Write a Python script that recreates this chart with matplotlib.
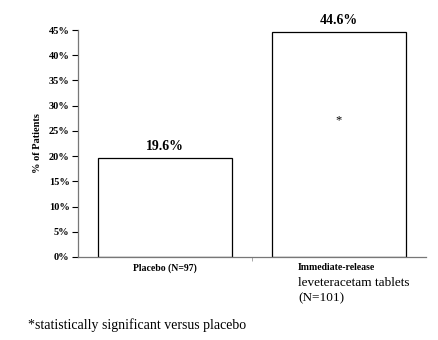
import matplotlib
matplotlib.use("Agg")
import matplotlib.pyplot as plt
from matplotlib.ticker import FuncFormatter

groups = ["Placebo (N=97)", "Immediate-release levetiracetam tablets (N=101)"]
responders = [19.6, 44.6]
yticks = [0, 5, 10, 15, 20, 25, 30, 35, 40, 45]

serif = ["Liberation Serif", "DejaVu Serif"]
plt.rcParams["font.family"] = serif

fig = plt.figure(figsize=(4.39, 3.40), dpi=100)
ax = fig.add_axes([78 / 439, 1 - 257 / 340, (426 - 78) / 439, (257 - 30) / 340])

x = list(range(len(groups)))
ax.bar(x, responders, width=0.77, color="white", edgecolor="black", linewidth=0.9)

ax.set_xlim(-0.5, 1.5)
ax.set_ylim(0, 45)
ax.set_yticks(yticks)
ax.yaxis.set_major_formatter(FuncFormatter(lambda v, p: f"{v:.0f}%"))
ax.tick_params(axis="y", labelsize=7.5, length=4, width=0.8, direction="out", pad=2, colors="black")
for lab in ax.get_yticklabels():
    lab.set_fontweight("bold")
ax.set_xticks([0.5])
ax.set_xticklabels([])
ax.tick_params(axis="x", length=3, width=0.6, color="#999999")

for side in ("top", "right"):
    ax.spines[side].set_visible(False)
ax.spines["left"].set_color("#777777")
ax.spines["bottom"].set_color("#777777")
ax.spines["left"].set_linewidth(0.9)
ax.spines["bottom"].set_linewidth(0.9)

ax.set_ylabel("% of Patients", fontsize=7.5, fontweight="bold", labelpad=5)

for xi, v in zip(x, responders):
    ax.text(xi, v + 1.0, f"{v:.1f}%", ha="center", va="bottom", fontsize=10, fontweight="bold")

# significance marker inside the active-treatment bar
ax.text(1, 27, "*", ha="center", va="center", fontsize=9)

# category labels under the axis
fig.text(165 / 439, 1 - 268 / 340, "Placebo (N=97)", ha="center", va="center", fontsize=7, fontweight="bold")
fig.text(298 / 439, 1 - 268 / 340, "Immediate-release", ha="left", va="center", fontsize=7, fontweight="bold")
fig.text(298 / 439, 1 - 283 / 340, "leveteracetam tablets", ha="left", va="center", fontsize=9.5)
fig.text(298 / 439, 1 - 298 / 340, "(N=101)", ha="left", va="center", fontsize=9.5)

fig.text(28 / 439, 1 - 325 / 340, "*statistically significant versus placebo", ha="left", va="center", fontsize=10)

fig.savefig("out.png", dpi=100)
